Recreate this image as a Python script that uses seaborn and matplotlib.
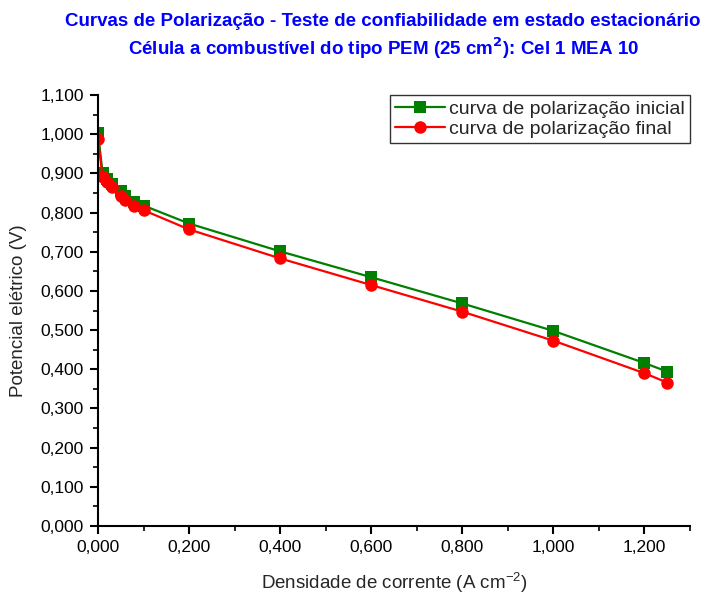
import matplotlib
matplotlib.use("Agg")
import matplotlib.pyplot as plt
from matplotlib.ticker import FuncFormatter, MultipleLocator
import numpy as np
import pandas as pd
import seaborn as sns

# Current density (A cm-2) and cell voltage (V)
densidade = [0.0, 0.01, 0.02, 0.03, 0.05, 0.06, 0.08, 0.10, 0.20, 0.40, 0.60, 0.80, 1.00, 1.20, 1.25]
v_inicial = [1.003, 0.902, 0.885, 0.872, 0.855, 0.842, 0.828, 0.818, 0.772, 0.701, 0.635, 0.568, 0.498, 0.416, 0.394]
v_final = [0.988, 0.892, 0.878, 0.865, 0.842, 0.831, 0.816, 0.806, 0.757, 0.683, 0.615, 0.547, 0.473, 0.390, 0.366]

serie_inicial = "curva de polarização inicial"
serie_final = "curva de polarização final"

df = pd.concat([
    pd.DataFrame({"x": densidade, "v": v_inicial, "curva": serie_inicial}),
    pd.DataFrame({"x": densidade, "v": v_final, "curva": serie_final}),
], ignore_index=True)

sns.set_theme(style="ticks")
plt.rcParams["font.family"] = ["Liberation Sans", "DejaVu Sans"]

fig = plt.figure(figsize=(7.03, 5.94), dpi=100)
ax = fig.add_axes([0.1394, 0.1145, 0.8421, 0.7255])

sns.lineplot(
    data=df, x="x", y="v", hue="curva", style="curva",
    palette={serie_inicial: "#008000", serie_final: "#FF0000"},
    markers={serie_inicial: "s", serie_final: "o"},
    dashes=False, markersize=9, markeredgewidth=0, linewidth=1.6,
    sort=False, ax=ax,
)

ax.set_xlim(0, 1.3)
ax.set_ylim(0, 1.1)
ax.xaxis.set_major_locator(MultipleLocator(0.2))
ax.xaxis.set_minor_locator(MultipleLocator(0.1))
ax.yaxis.set_major_locator(MultipleLocator(0.1))
ax.yaxis.set_minor_locator(MultipleLocator(0.05))
fmt = FuncFormatter(lambda v, p: f"{v:.3f}".replace(".", ","))
ax.xaxis.set_major_formatter(fmt)
ax.yaxis.set_major_formatter(fmt)

for s in ["top", "right"]:
    ax.spines[s].set_visible(False)
for s in ["left", "bottom"]:
    ax.spines[s].set_linewidth(1.5)
    ax.spines[s].set_color("black")

ax.tick_params(axis="both", which="major", direction="out", length=6, width=1.5,
               labelsize=12.5, colors="black", pad=4)
ax.tick_params(axis="both", which="minor", direction="out", length=3.5, width=1.2, colors="black")

ax.set_xlabel("Densidade de corrente (A cm$^{\\mathregular{-2}}$)", fontsize=13.5)
ax.set_ylabel("Potencial elétrico (V)", fontsize=13.5)
ax.xaxis.set_label_coords(0.5, -0.132)
ax.xaxis.label.set_va("center")
ax.yaxis.set_label_coords(-0.135, 0.5)
ax.yaxis.label.set_va("center")

leg = ax.legend(loc="upper right", bbox_to_anchor=(1.0, 1.0), borderaxespad=0.0,
                fontsize=14, frameon=True, fancybox=False, handlelength=2.6,
                borderpad=0.25, labelspacing=0.15, handletextpad=0.2, title=None)
leg.get_frame().set_edgecolor("black")
leg.get_frame().set_linewidth(1.0)

fig.text(0.545, 0.963, "Curvas de Polarização - Teste de confiabilidade em estado estacionário",
         ha="center", va="center", color="#0000FF", fontsize=13.5, fontweight="bold")
fig.text(0.545, 0.918, "Célula a combustível do tipo PEM (25 cm$^{\\mathbf{2}}$): Cel 1 MEA 10",
         ha="center", va="center", color="#0000FF", fontsize=13.5, fontweight="bold")

fig.savefig("out.png", dpi=100)
